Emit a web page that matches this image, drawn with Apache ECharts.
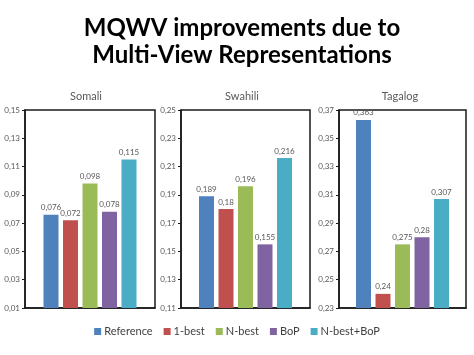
<!DOCTYPE html>
<html>
<head>
<meta charset="utf-8">
<script src="https://cdn.jsdelivr.net/npm/echarts@6/dist/echarts.min.js"></script>
<style>
html,body{margin:0;padding:0;background:#fff;}
#c{width:474px;height:355px;}
</style>
</head>
<body>
<div id="c"></div>
<script>
const seriesNames = ['Reference', '1-best', 'N-best', 'BoP', 'N-best+BoP'];
const colors = ['#4F81BD', '#C0504D', '#9BBB59', '#8064A2', '#4BACC6'];
const languages = ['Somali', 'Swahili', 'Tagalog'];
const somaliValues = [0.076, 0.072, 0.098, 0.078, 0.115];
const swahiliValues = [0.189, 0.18, 0.196, 0.155, 0.216];
const tagalogValues = [0.363, 0.24, 0.275, 0.28, 0.307];
const axisMins = [0.01, 0.11, 0.23];
const axisMaxs = [0.15, 0.25, 0.37];
const axisInterval = 0.02;

const allValues = [somaliValues, swahiliValues, tagalogValues];
const gridBoxes = [
  {left: 25, top: 110, width: 130, height: 198},
  {left: 181, top: 110, width: 129, height: 198},
  {left: 339, top: 110, width: 127, height: 198}
];
const titleCenters = [81, 237, 395];
const FONT = 'Lato';
const grey = '#595959';

const fmt = v => String(+v.toFixed(3)).replace('.', ',');

const option = {
  animation: false,
  backgroundColor: '#fff',
  textStyle: {fontFamily: FONT},
  title: [
    {
      text: 'MQWV improvements due to\nMulti-View Representations',
      left: 237, top: 10, textAlign: 'center',
      textStyle: {fontFamily: FONT, fontWeight: 'bold', fontSize: 24, lineHeight: 27, color: '#000'}
    }
  ].concat(languages.map((l, i) => ({
    text: l, left: titleCenters[i], top: 86, textAlign: 'center',
    textStyle: {fontFamily: FONT, fontWeight: 'normal', fontSize: 11, color: grey}
  }))),
  legend: {
    data: seriesNames,
    left: 'center', top: 321,
    icon: 'rect', itemWidth: 7, itemHeight: 7, itemGap: 11,
    textStyle: {fontFamily: FONT, fontSize: 11, color: '#404040', padding: [0, 0, 0, -2]}
  },
  grid: gridBoxes.map(g => Object.assign({show: true, borderColor: '#1a1a1a', borderWidth: 1.5, backgroundColor: 'transparent'}, g)),
  xAxis: languages.map((l, i) => ({
    type: 'category', gridIndex: i, data: [''],
    axisLine: {show: true, lineStyle: {color: '#1a1a1a', width: 1.5}},
    axisTick: {show: false}, axisLabel: {show: false}
  })),
  yAxis: languages.map((l, i) => ({
    type: 'value', gridIndex: i,
    min: axisMins[i], max: axisMaxs[i], interval: axisInterval,
    axisLine: {show: true, lineStyle: {color: '#1a1a1a', width: 1.5}},
    axisTick: {show: true, length: 3, lineStyle: {color: '#1a1a1a'}},
    splitLine: {show: false},
    axisLabel: {fontFamily: FONT, fontSize: 8, color: grey, margin: 5, formatter: v => v.toFixed(2).replace('.', ',')}
  })),
  series: []
};

allValues.forEach((vals, gi) => {
  vals.forEach((v, si) => {
    option.series.push({
      type: 'bar', name: seriesNames[si],
      xAxisIndex: gi, yAxisIndex: gi,
      data: [v],
      barWidth: 15, barGap: '30%',
      itemStyle: {color: colors[si]},
      label: {show: true, position: 'top', distance: 3, fontFamily: FONT, fontSize: 8, color: grey, formatter: p => fmt(p.value)}
    });
  });
});

const chart = echarts.init(document.getElementById('c'), null, {renderer: 'canvas'});
chart.setOption(option);
</script>
</body>
</html>
